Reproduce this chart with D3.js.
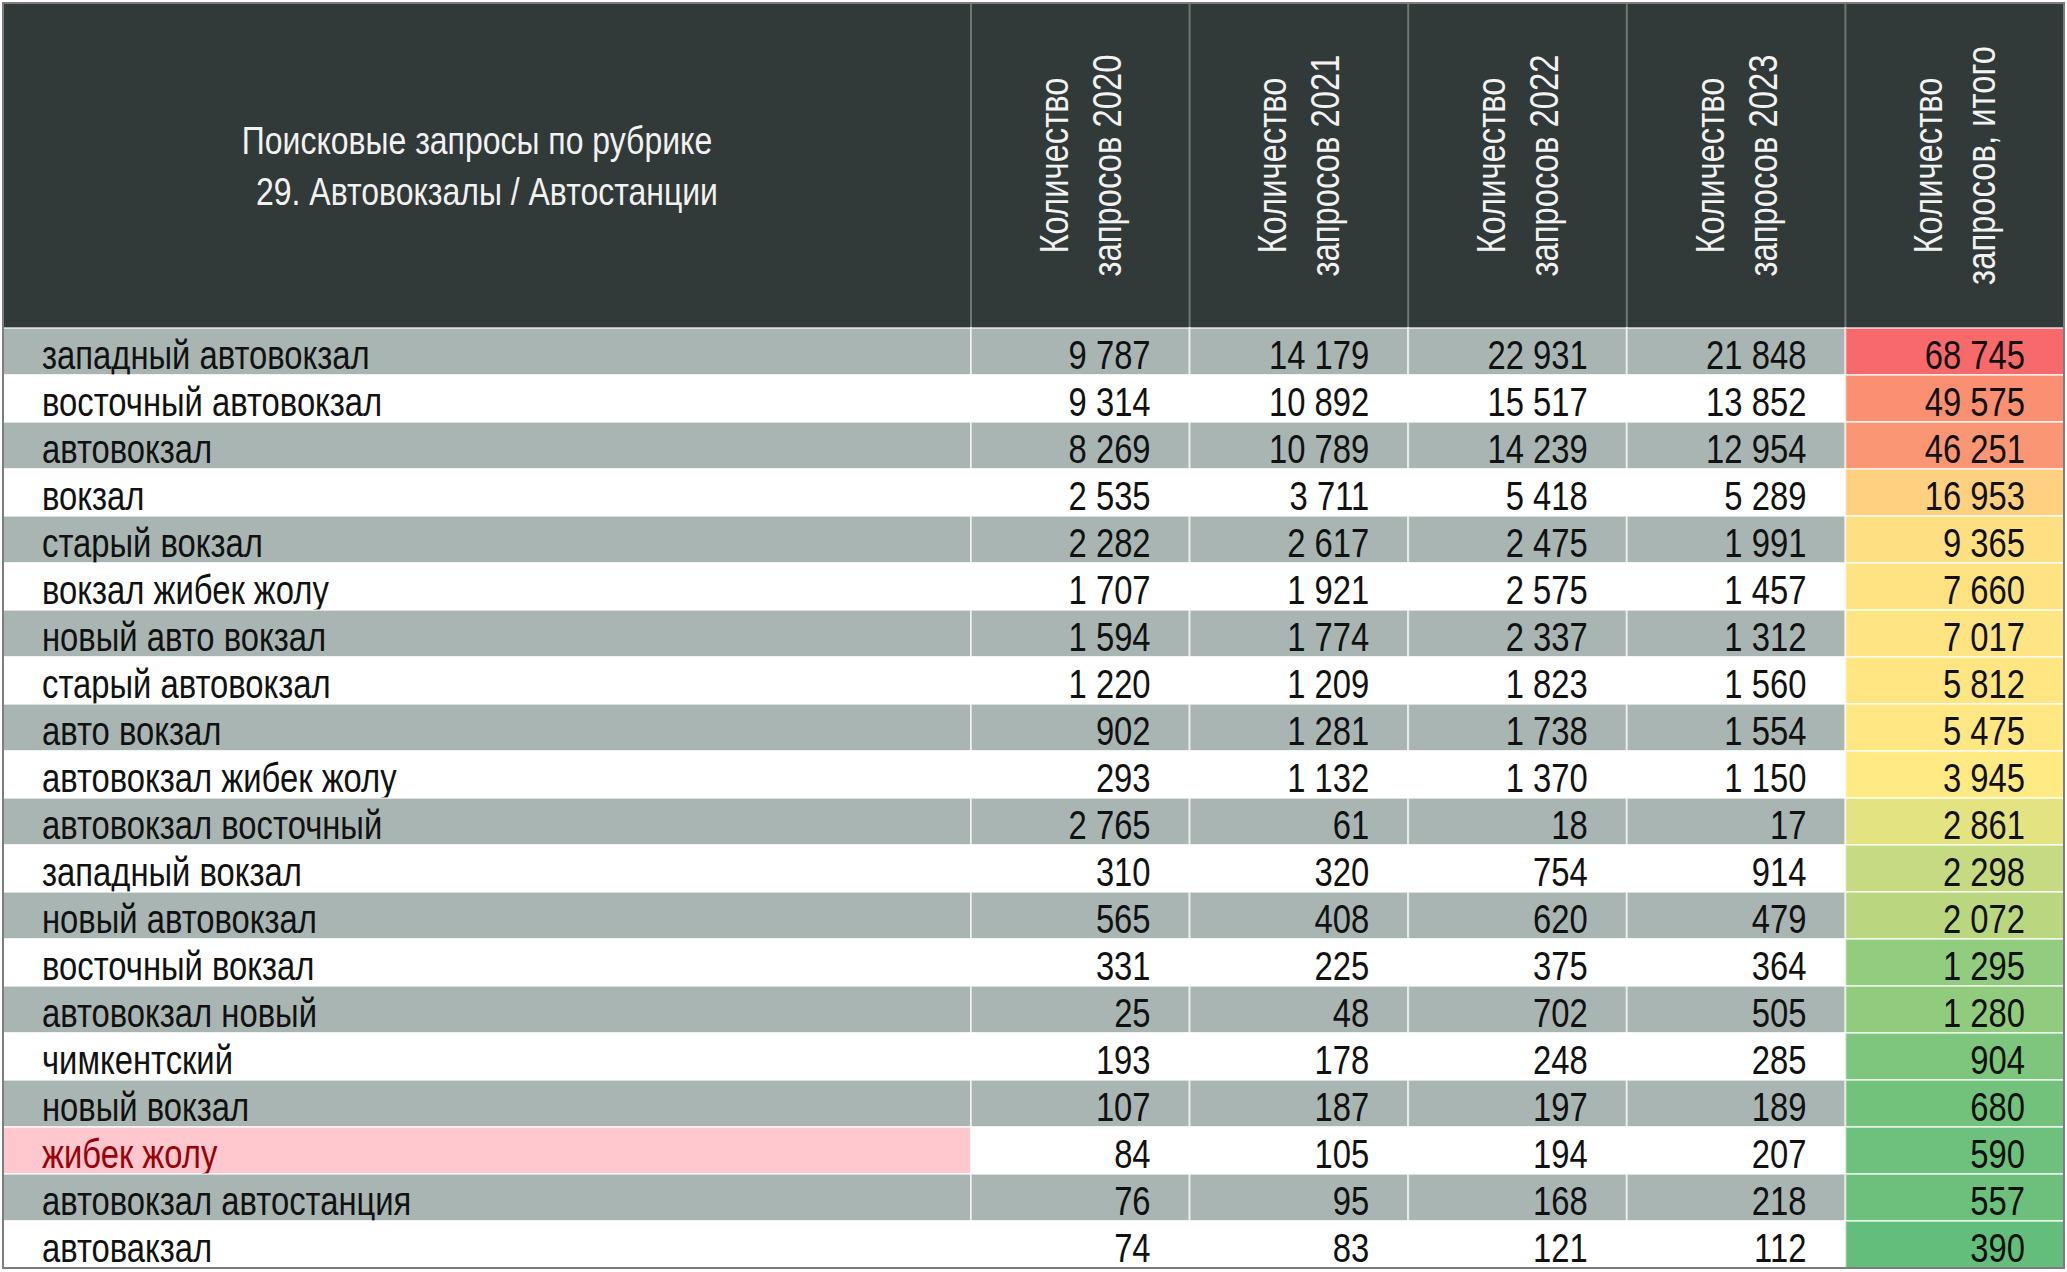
<!DOCTYPE html>
<html>
<head>
	<meta charset="utf-8">
	<title>Поисковые запросы: автовокзалы</title>
	<script type="text/javascript" src="https://d3js.org/d3.v7.min.js"></script>
	<style>
		body{ margin: 0; background: #fff; }
		.table text{
			font-family: "Liberation Sans", Arial, sans-serif;
		}
	</style>
</head>
<body>
<svg class="table"></svg>

<script type="text/javascript">
// Table data, row by row
	var categories = ["западный автовокзал", "восточный автовокзал", "автовокзал", "вокзал", "старый вокзал",
		"вокзал жибек жолу", "новый авто вокзал", "старый автовокзал", "авто вокзал", "автовокзал жибек жолу",
		"автовокзал восточный", "западный вокзал", "новый автовокзал", "восточный вокзал", "автовокзал новый",
		"чимкентский", "новый вокзал", "жибек жолу", "автовокзал автостанция", "автовакзал"];

	var y2020 = [9787, 9314, 8269, 2535, 2282, 1707, 1594, 1220, 902, 293, 2765, 310, 565, 331, 25, 193, 107, 84, 76, 74];
	var y2021 = [14179, 10892, 10789, 3711, 2617, 1921, 1774, 1209, 1281, 1132, 61, 320, 408, 225, 48, 178, 187, 105, 95, 83];
	var y2022 = [22931, 15517, 14239, 5418, 2475, 2575, 2337, 1823, 1738, 1370, 18, 754, 620, 375, 702, 248, 197, 194, 168, 121];
	var y2023 = [21848, 13852, 12954, 5289, 1991, 1457, 1312, 1560, 1554, 1150, 17, 914, 479, 364, 505, 285, 189, 207, 218, 112];
	var totals = [68745, 49575, 46251, 16953, 9365, 7660, 7017, 5812, 5475, 3945, 2861, 2298, 2072, 1295, 1280, 904, 680, 590, 557, 390];

	var columnKeys = ["2020", "2021", "2022", "2023", "итого"];
	var columnTitles = [
		["Количество", "запросов 2020"],
		["Количество", "запросов 2021"],
		["Количество", "запросов 2022"],
		["Количество", "запросов 2023"],
		["Количество", "запросов, итого"]
	];
	var titleLines = ["Поисковые запросы по рубрике", "29. Автовокзалы / Автостанции"];
	var highlighted = ["жибек жолу"];

	// note: "top" is taken by window.top, so the edges get longer names
	var width = 2067,
		height = 1272,
		tableLeft = 3, tableRight = 2064,
		tableTop = 3, headerBottom = 328, tableBottom = 1268,
		labelRight = 971,
		narrow = 0.82,   // fake a narrow font by squeezing the text horizontally
		fontSize = 40;

	var columns = [y2020, y2021, y2022, y2023, totals];

	var svg = d3.select(".table")
		.attr("width", width)
		.attr("height", height);

	// rows and value columns as band scales
	var y = d3.scaleBand()
		.domain(categories)
		.range([headerBottom, tableBottom]);

	var x = d3.scaleBand()
		.domain(columnKeys)
		.range([labelRight, tableRight]);

	var fmt = d3.formatLocale({ decimal: ",", thousands: "\u00a0", grouping: [3], currency: ["", ""] }).format(",d");

	// Excel-like 3 colour scale on the totals column (min / median / max)
	var color = d3.scaleLinear()
		.domain([d3.min(totals), d3.median(totals), d3.max(totals)])
		.range(["#63be7b", "#ffeb84", "#f8696b"]);

	// header
	svg.append("rect")
		.attr("x", tableLeft).attr("y", tableTop)
		.attr("width", tableRight - tableLeft).attr("height", headerBottom - tableTop)
		.attr("fill", "#323a39");

	var title = svg.append("g");
	title.selectAll("text")
		.data(titleLines)
	  .enter().append("text")
		.attr("transform", function(d, i){ return "translate(" + (477 + i * 10) + "," + (154 + i * 51) + ") scale(" + narrow + ",1)"; })
		.attr("text-anchor", "middle")
		.attr("font-size", 39)
		.attr("fill", "#f2f2f2")
		.text(function(d){ return d; });

	// header column separators
	svg.selectAll("line.hsep")
		.data(columnKeys)
	  .enter().append("line")
		.attr("class", "hsep")
		.attr("x1", function(d){ return x(d); })
		.attr("x2", function(d){ return x(d); })
		.attr("y1", tableTop).attr("y2", headerBottom)
		.attr("stroke", "#6e7674")
		.attr("stroke-width", 2);

	// rotated column titles
	var colHead = svg.selectAll("g.colhead")
		.data(columnKeys)
	  .enter().append("g")
		.attr("class", "colhead")
		.attr("transform", function(d){ return "translate(" + (x(d) + x.bandwidth() / 2) + "," + ((tableTop + headerBottom) / 2) + ")"; });

	colHead.selectAll("text")
		.data(function(d, i){ return columnTitles[i]; })
	  .enter().append("text")
		.attr("transform", function(d, i){ return "translate(" + (i === 0 ? -26.5 : 26.5) + ",0) rotate(-90) scale(" + narrow + ",1)"; })
		.attr("text-anchor", "middle")
		.attr("dy", "0.35em")
		.attr("font-size", fontSize)
		.attr("fill", "#f2f2f2")
		.text(function(d){ return d; });

	// body rows
	var row = svg.selectAll("g.row")
		.data(categories)
	  .enter().append("g")
		.attr("class", "row")
		.attr("transform", function(d){ return "translate(0," + y(d) + ")"; });

	// label cells
	row.append("rect")
		.attr("x", tableLeft)
		.attr("width", labelRight - tableLeft)
		.attr("height", y.bandwidth())
		.attr("fill", function(d, i){
			if (highlighted.indexOf(d) >= 0) return "#ffc7ce";
			return i % 2 === 0 ? "#a9b5b2" : "#ffffff";
		})
		.attr("stroke", "rgba(255,255,255,0.6)")
		.attr("stroke-width", 2);

	row.append("text")
		.attr("transform", "translate(42," + (y.bandwidth() - 6) + ") scale(" + narrow + ",1)")
		.attr("font-size", fontSize)
		.attr("fill", function(d){ return highlighted.indexOf(d) >= 0 ? "#9c0006" : "#111"; })
		.text(function(d){ return d; });

	// value cells
	var cell = row.selectAll("g.cell")
		.data(function(d, i){ return columnKeys.map(function(k, j){ return { key: k, value: columns[j][i], row: i }; }); })
	  .enter().append("g")
		.attr("class", "cell");

	cell.append("rect")
		.attr("x", function(d){ return x(d.key); })
		.attr("width", x.bandwidth())
		.attr("height", y.bandwidth())
		.attr("fill", function(d){
			if (d.key === "итого") return color(d.value);
			return d.row % 2 === 0 ? "#a9b5b2" : "#ffffff";
		})
		.attr("stroke", "rgba(255,255,255,0.6)")
		.attr("stroke-width", 2);

	cell.append("text")
		.attr("transform", function(d){ return "translate(" + (x(d.key) + x.bandwidth() - 39) + "," + (y.bandwidth() - 6) + ") scale(" + narrow + ",1)"; })
		.attr("text-anchor", "end")
		.attr("font-size", fontSize)
		.attr("fill", "#111")
		.text(function(d){ return fmt(d.value); });

	// outer frame
	svg.append("rect")
		.attr("x", tableLeft).attr("y", tableTop)
		.attr("width", tableRight - tableLeft).attr("height", tableBottom - tableTop)
		.attr("fill", "none")
		.attr("stroke", "#7d7d7d")
		.attr("stroke-width", 2);

</script>
</body>
</html>
